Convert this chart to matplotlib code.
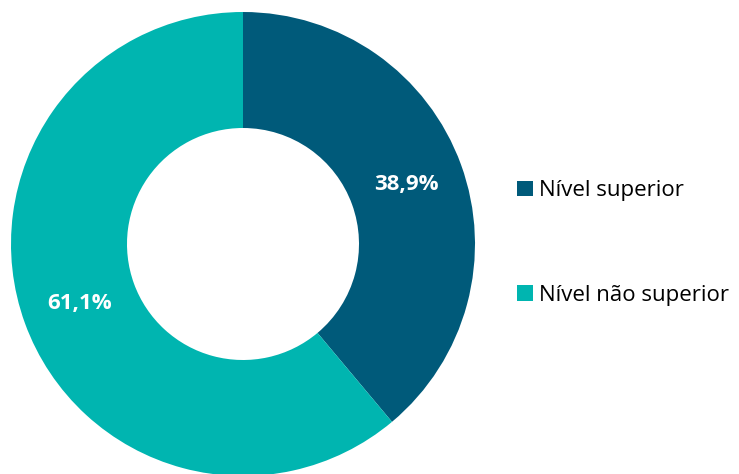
import matplotlib
matplotlib.use("Agg")
import matplotlib.pyplot as plt

# dados
categorias = ['Nível superior', 'Nível não superior']
valores = [38.9, 61.1]
cores = ['#005A7A', '#00B5B0']

plt.rcParams['font.family'] = ['Open Sans', 'DejaVu Sans']

fig = plt.figure(figsize=(7.39, 4.74), dpi=100)
# eixo posicionado para que a rosca fique cortada embaixo, como no original
ax = fig.add_axes([11 / 739, -2 / 474, 464 / 739, 464 / 474])

wedges, textos, autotextos = ax.pie(
    valores, colors=cores, startangle=90, counterclock=False,
    radius=1.0, wedgeprops=dict(width=0.5, edgecolor='none'),
    autopct=lambda p: f'{p:.1f}%'.replace('.', ','), pctdistance=0.75,
    textprops=dict(color='white', fontsize=16, fontweight='bold'))

ax.set_xlim(-1, 1)
ax.set_ylim(-1, 1)
ax.set_aspect('equal')
ax.axis('off')

fig.legend(wedges, categorias, loc='center left',
           bbox_to_anchor=(497 / 739, 1 - 243 / 474), frameon=False,
           fontsize=16, labelspacing=3.75, handlelength=0.72,
           handleheight=0.72, handletextpad=0.25)

fig.savefig('out.png', dpi=100)
